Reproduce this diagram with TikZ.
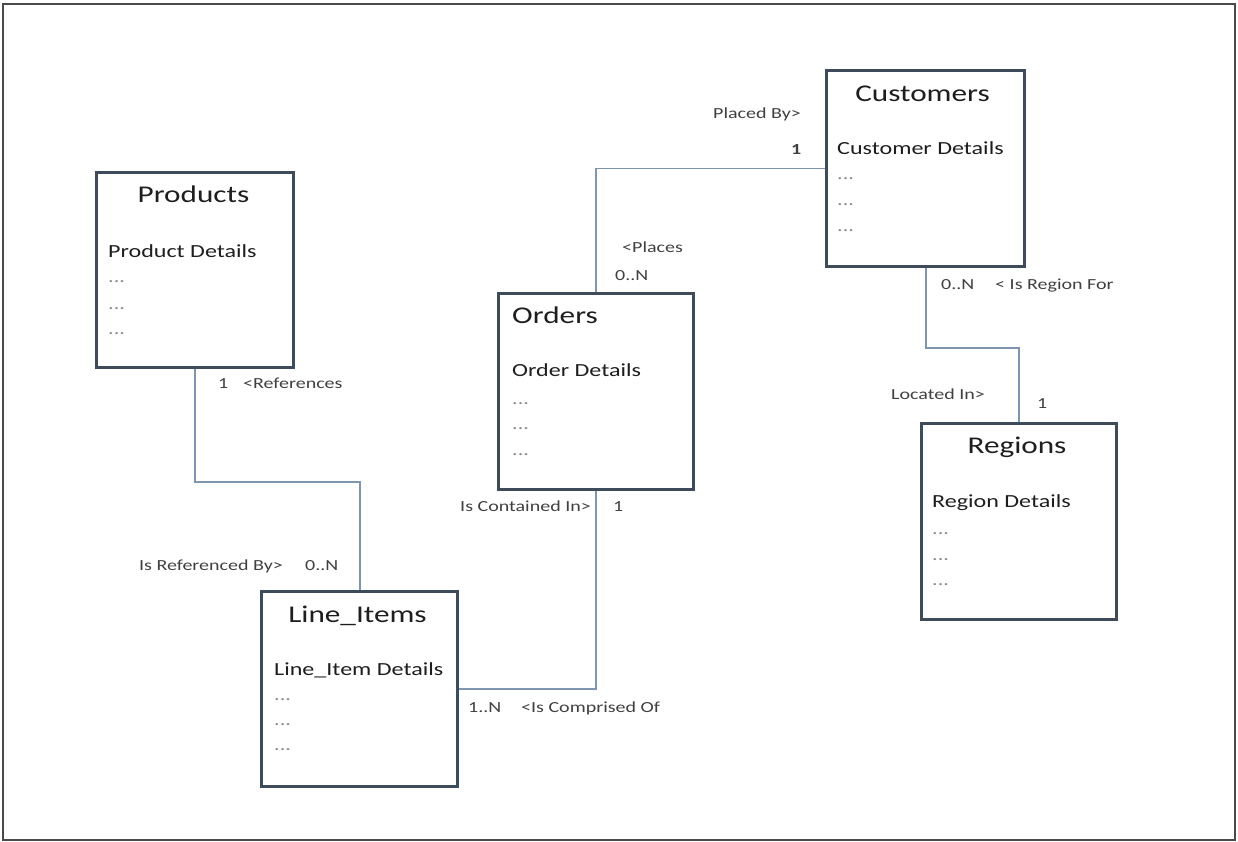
\documentclass[tikz,border=0pt]{standalone}
\usepackage{fontspec}
\setmainfont{Carlito}[FakeStretch=1.3]
\definecolor{boxc}{HTML}{3E4B5B}
\definecolor{linec}{HTML}{7D95AF}
\definecolor{txt}{HTML}{1E1E1E}
\definecolor{dotc}{HTML}{8A8A8A}
\definecolor{framec}{HTML}{4A4A4A}
\begin{document}
\begin{tikzpicture}[x=1pt,y=-1pt,
  ent/.style={draw=boxc,line width=3.2pt,fill=white,rectangle,inner sep=0pt,anchor=north west},
  conn/.style={draw=linec,line width=1.8pt},
  ttl/.style={font=\fontsize{24}{28}\selectfont,text=txt,inner sep=0pt,anchor=base},
  ttlw/.style={font=\fontsize{24}{28}\selectfont,text=txt,inner sep=0pt,anchor=base west},
  det/.style={font=\fontsize{18.5}{22}\selectfont,text=txt,inner sep=0pt,anchor=base west},
  dts/.style={font=\fontsize{17}{20}\selectfont,text=dotc,inner sep=0pt,anchor=base west},
  lbl/.style={font=\fontsize{15.4}{19}\selectfont,text=txt!85,inner sep=0pt,anchor=base west}
]
\useasboundingbox (0,0) rectangle (1238,842);
\draw[framec,line width=2pt] (3,4) rectangle (1235,840);

% entity boxes
\node[ent,minimum width=197pt,minimum height=195pt] (prod) at (95,171) {};
\node[ent,minimum width=198pt,minimum height=196pt] (cust) at (825,69) {};
\node[ent,minimum width=195pt,minimum height=196pt] (ord) at (497,292) {};
\node[ent,minimum width=195pt,minimum height=196pt] (reg) at (920,422) {};
\node[ent,minimum width=196pt,minimum height=195pt] (li) at (260,590) {};

% connectors
\draw[conn] (prod.south) -- ++(0,113) -| (li.north);
\draw[conn] (ord.north) |- (cust.west);
\draw[conn] (ord.south) |- (li.east);
\draw[conn] (cust.south) -- ++(0,80) -| (reg.north);

% Products
\node[ttl] (prodT) at (193.5,203) {Products};
\node[det] (prodD) at (108,257) {Product Details};
\node[dts] (prodA) at (108,282) {...};
\node[dts] (prodB) at (108,309) {...};
\node[dts] (prodC) at (108,334) {...};

% Customers
\node[ttl] (custT) at (922.5,102) {Customers};
\node[det] (custD) at (837,155) {Customer Details};
\node[dts] (custA) at (837,180) {...};
\node[dts] (custB) at (837,206) {...};
\node[dts] (custC) at (837,232) {...};

% Orders
\node[ttlw] (ordT) at (512,323) {Orders};
\node[det] (ordD) at (512,376) {Order Details};
\node[dts] (ordA) at (512,404) {...};
\node[dts] (ordB) at (512,429) {...};
\node[dts] (ordC) at (512,455) {...};

% Regions
\node[ttl] (regT) at (1017,453) {Regions};
\node[det] (regD) at (932,507) {Region Details};
\node[dts] (regA) at (932,534) {...};
\node[dts] (regB) at (932,560) {...};
\node[dts] (regC) at (932,585) {...};

% Line_Items
\node[ttl] (liT) at (357.5,622) {Line\_Items};
\node[det] (liD) at (274,675) {Line\_Item Details};
\node[dts] (liA) at (274,700) {...};
\node[dts] (liB) at (274,725) {...};
\node[dts] (liC) at (274,750) {...};

% relationship labels
\node[lbl] (l1) at (218,388) {1};
\node[lbl] (l2) at (243,388) {<References};
\node[lbl] (l3) at (139,570) {Is Referenced By>};
\node[lbl] (l4) at (305,570) {0..N};
\node[lbl] (l5) at (460,511) {Is Contained In>};
\node[lbl] (l6) at (613,511) {1};
\node[lbl] (l7) at (468,712) {1..N};
\node[lbl] (l8) at (521,712) {<Is Comprised Of};
\node[lbl] (l9) at (713,119) {Placed By>};
\node[lbl,font=\fontsize{15.4}{19}\selectfont\bfseries] (l10) at (791,155) {1};
\node[lbl] (l11) at (622,252) {<Places};
\node[lbl] (l12) at (615,280) {0..N};
\node[lbl] (l13) at (941,289) {0..N};
\node[lbl] (l14) at (995,289) {< Is Region For};
\node[lbl] (l15) at (891,399) {Located In>};
\node[lbl] (l16) at (1037,408) {1};
\end{tikzpicture}
\end{document}
